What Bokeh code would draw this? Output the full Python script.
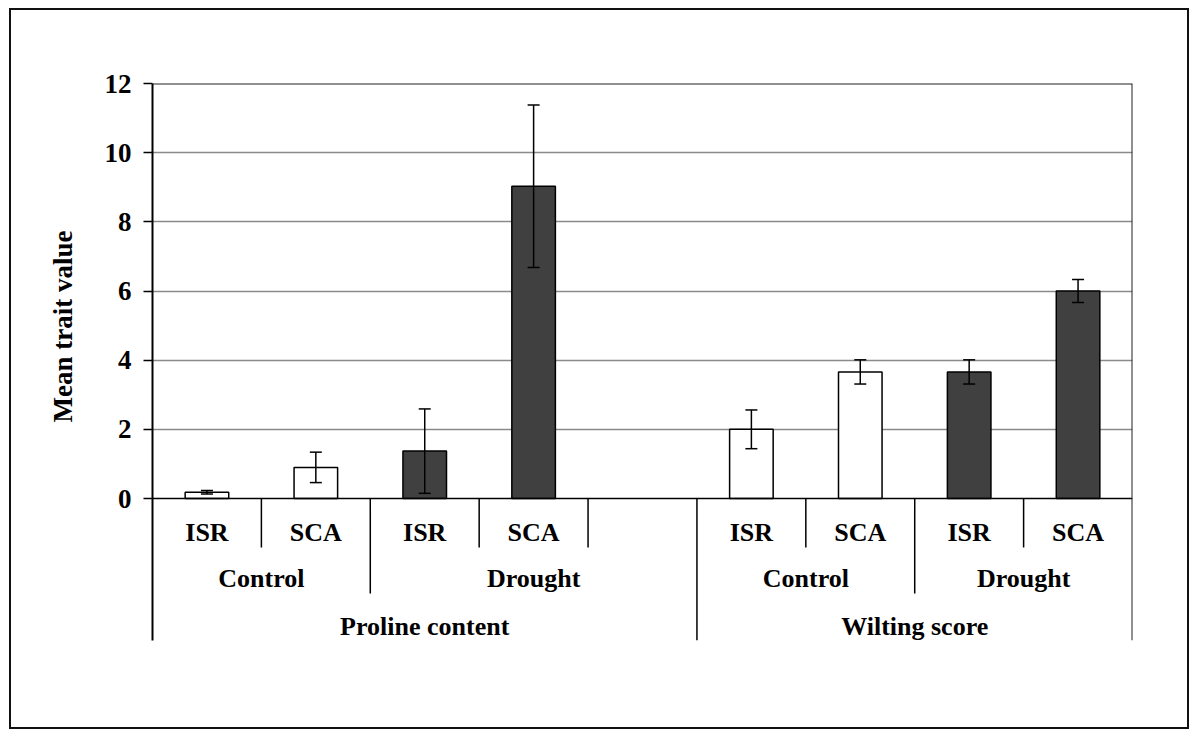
from bokeh.plotting import figure
from bokeh.models import Range1d, FixedTicker, Span, Whisker, TeeHead, ColumnDataSource, Title
from bokeh.core.properties import value
from bokeh.embed import file_html
from bokeh.resources import INLINE

# ---------------- data ----------------
traits = ["Proline content", "Wilting score"]
treatments = ["Control", "Drought"]
genotypes = ["ISR", "SCA"]
proline_mean = [0.18, 0.90, 1.37, 9.03]
proline_err = [0.05, 0.44, 1.22, 2.35]
wilting_mean = [2.00, 3.66, 3.66, 6.00]
wilting_err = [0.56, 0.35, 0.35, 0.33]
y_ticks = [0, 2, 4, 6, 8, 10, 12]
y_title = "Mean trait value"
# an empty category slot that Excel left after Proline / Drought
extra_slots = {("Proline content", "Drought"): 1}

means = {"Proline content": proline_mean, "Wilting score": wilting_mean}
errs = {"Proline content": proline_err, "Wilting score": wilting_err}
fills = {"Control": "#ffffff", "Drought": "#404040"}

# ---------------- layout ----------------
FONT = value("Liberation Serif")
W, H = 1180, 721
ML, MR, MT, MB = 141, 59, 73, 91
frame_w = W - ML - MR
frame_h = H - MT - MB
value_px = 415                      # pixels from 0 to 12
ymax = y_ticks[-1]
u_per_px = ymax / value_px
ymin = -(frame_h - value_px) * u_per_px

# ---------------- build slots ----------------
xs, tops, lows, ups, cols = [], [], [], [], []
lab1_x, lab1_t = [], []
lab2_x, lab2_t = [], []
lab3_x, lab3_t = [], []
bound = {}
pos = 0
for trait in traits:
    t_start = pos
    for ki, treat in enumerate(treatments):
        g_start = pos
        for gi, geno in enumerate(genotypes):
            i = ki * len(genotypes) + gi
            m, e = means[trait][i], errs[trait][i]
            xs.append(pos + 0.5); tops.append(m)
            lows.append(m - e); ups.append(m + e)
            cols.append(fills[treat])
            lab1_x.append(pos + 0.5); lab1_t.append(geno)
            pos += 1
            bound[pos] = max(bound.get(pos, 0), 1)
        pos += extra_slots.get((trait, treat), 0)
        bound[pos] = max(bound.get(pos, 0), 2)
        lab2_x.append((g_start + pos) / 2); lab2_t.append(treat)
    bound[pos] = 3
    lab3_x.append((t_start + pos) / 2); lab3_t.append(trait)
n_slots = pos

sep_end = {1: -49 * u_per_px, 2: -95 * u_per_px, 3: ymin}
base_y = {1: -34 * u_per_px, 2: -80 * u_per_px, 3: -128 * u_per_px}

p = figure(width=W, height=H, output_backend="svg", toolbar_location=None,
           x_range=Range1d(0, n_slots), y_range=Range1d(ymin, ymax),
           min_border_left=ML, min_border_right=MR, min_border_top=MT,
           min_border_bottom=MB, x_axis_location=None)
p.styles = {"border": "2px solid #111", "margin-left": "9px", "margin-top": "8px"}
p.outline_line_color = None
p.background_fill_color = "white"
p.xgrid.visible = False
p.ygrid.ticker = FixedTicker(ticks=[t for t in y_ticks if 0 < t < ymax])
p.ygrid.grid_line_color = "#8a8a8a"
p.ygrid.grid_line_width = 1.5

ax = p.yaxis[0]
ax.ticker = FixedTicker(ticks=y_ticks)
ax.axis_line_color = "black"
ax.axis_line_width = 2
ax.major_tick_out = 9
ax.major_tick_in = 0
ax.major_tick_line_width = 1.5
ax.minor_tick_line_color = None
ax.major_label_standoff = 12
ax.major_label_text_font = "Liberation Serif"
ax.major_label_text_font_style = "bold"
ax.major_label_text_font_size = "27px"
ax.major_label_text_color = "black"

p.add_layout(Title(text=y_title, align="left", offset=218, standoff=48,
                   text_font="Liberation Serif", text_font_style="bold",
                   text_font_size="27px", text_color="black"), "left")

src = ColumnDataSource(dict(x=xs, top=tops, lower=lows, upper=ups, color=cols))
p.vbar(x="x", top="top", width=0.4, bottom=0, source=src, fill_color="color",
       line_color="black", line_width=1.5)

wh = Whisker(base="x", upper="upper", lower="lower", source=src, dimension="height",
             line_color="black", line_width=1.5,
             upper_head=TeeHead(size=12, line_width=1.5, line_color="black"),
             lower_head=TeeHead(size=12, line_width=1.5, line_color="black"))
wh.level = "annotation"
p.add_layout(wh)

p.add_layout(Span(location=0, dimension="width", line_color="black", line_width=1.5))
p.add_layout(Span(location=ymax, dimension="width", line_color="#222", line_width=2))
p.add_layout(Span(location=n_slots, dimension="height", line_color="#222", line_width=2))

# category separators
sx = [b for b in sorted(bound) if 0 < b < n_slots]
p.segment(x0=sx, x1=sx, y0=[0] * len(sx), y1=[sep_end[bound[b]] for b in sx],
          line_color="black", line_width=1.5)

for lx, lt, lvl in [(lab1_x, lab1_t, 1), (lab2_x, lab2_t, 2), (lab3_x, lab3_t, 3)]:
    p.text(x=lx, y=[base_y[lvl]] * len(lx), text=lt, text_font=FONT,
           text_font_style="bold", text_font_size=value("26px"), text_color="black",
           text_align="center", text_baseline="alphabetic")

open("out.html", "w").write(file_html(p, INLINE))
